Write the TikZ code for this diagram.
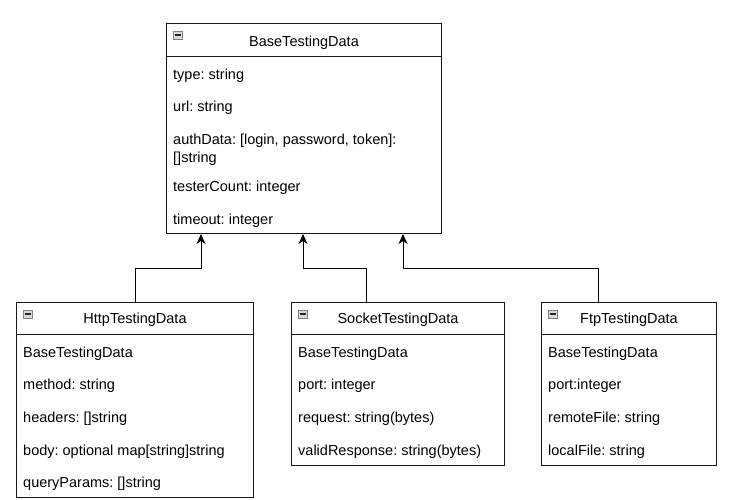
\documentclass[tikz,border=0pt]{standalone}
\usepackage{fontspec}
\setmainfont{Liberation Sans}
\usetikzlibrary{arrows.meta}
\frenchspacing

\tikzset{
  classbox/.style={draw=black!90, fill=white, line width=1pt, anchor=north west, inner sep=0pt},
  classtitle/.style={anchor=base, inner sep=0pt, font=\fontsize{14.5}{17}\selectfont},
  attr/.style={anchor=base west, inner sep=0pt, font=\fontsize{14.5}{17}\selectfont},
  divider/.style={line width=1pt, black!90},
  icon/.style={draw=black!50, fill=black!15, line width=0.8pt},
  inherit/.style={-{Stealth[length=10pt,width=9pt,inset=3pt]}, line width=1pt},
}

% small collapse box in the header
\newcommand{\collapseicon}[1]{%
  \draw[icon] ([shift={(7pt,-8pt)}]#1.north west) rectangle ++(9pt,-8pt);
  \draw[black!85, line width=1.2pt] ([shift={(8.5pt,-12pt)}]#1.north west) -- ++(6pt,0);
}

\begin{document}
\begin{tikzpicture}[x=1pt,y=-1pt]
  \useasboundingbox (0,0) rectangle (739,499);

  % base class
  \node[classbox, minimum width=275pt, minimum height=210pt] (base) at (166,23) {};
  \draw[divider] ([yshift=-33pt]base.north west) -- ([yshift=-33pt]base.north east);
  \collapseicon{base}
  \node[classtitle] (basetitle) at ([yshift=-23pt]base.north) {BaseTestingData};
  \node[attr] (btype) at (173,79) {type: string};
  \node[attr] (burl) at (173,111) {url: string};
  \node[attr] (bauth) at (173,144) {authData: [login, password, token]:};
  \node[attr] (bauthb) at (173,162) {[]string};
  \node[attr] (bcount) at (173,191) {testerCount: integer};
  \node[attr] (btimeout) at (173,224) {timeout: integer};

  % http
  \node[classbox, minimum width=237pt, minimum height=195pt] (http) at (16,302) {};
  \draw[divider] ([yshift=-32pt]http.north west) -- ([yshift=-32pt]http.north east);
  \collapseicon{http}
  \node[classtitle] (httptitle) at ([yshift=-21pt]http.north) {HttpTestingData};
  \node[attr] (hbase) at (23,357) {BaseTestingData};
  \node[attr] (hmethod) at (23,389) {method: string};
  \node[attr] (hheaders) at (23,422) {headers: []string};
  \node[attr] (hbody) at (23,455) {body: optional map[string]string};
  \node[attr] (hquery) at (23,487) {queryParams: []string};

  % socket
  \node[classbox, minimum width=213pt, minimum height=163pt] (sock) at (291,302) {};
  \draw[divider] ([yshift=-32pt]sock.north west) -- ([yshift=-32pt]sock.north east);
  \collapseicon{sock}
  \node[classtitle] (socktitle) at ([yshift=-21pt]sock.north) {SocketTestingData};
  \node[attr] (sbase) at (298,357) {BaseTestingData};
  \node[attr] (sport) at (298,389) {port: integer};
  \node[attr] (sreq) at (298,422) {request: string(bytes)};
  \node[attr] (sresp) at (298,455) {validResponse: string(bytes)};

  % ftp
  \node[classbox, minimum width=175pt, minimum height=163pt] (ftp) at (541,302) {};
  \draw[divider] ([yshift=-32pt]ftp.north west) -- ([yshift=-32pt]ftp.north east);
  \collapseicon{ftp}
  \node[classtitle] (ftptitle) at ([yshift=-21pt]ftp.north) {FtpTestingData};
  \node[attr] (fbase) at (548,357) {BaseTestingData};
  \node[attr] (fport) at (548,389) {port:integer};
  \node[attr] (fremote) at (548,422) {remoteFile: string};
  \node[attr] (flocal) at (548,455) {localFile: string};

  % inheritance arrows
  \coordinate (jh) at (201,268);
  \coordinate (js) at (303,268);
  \coordinate (jf) at (403,268);
  \draw[inherit] (http.north) |- (jh) -- (jh |- base.south);
  \draw[inherit] ([xshift=-31.5pt]sock.north) |- (js) -- (js |- base.south);
  \draw[inherit] ([xshift=-30.5pt]ftp.north) |- (jf) -- (jf |- base.south);
\end{tikzpicture}
\end{document}
